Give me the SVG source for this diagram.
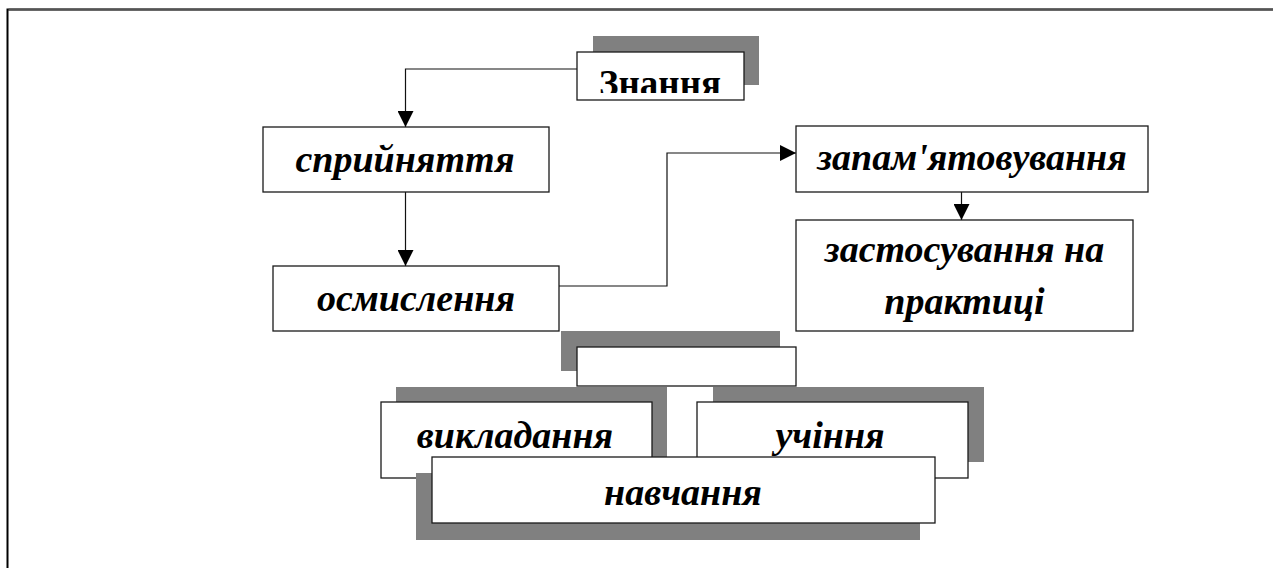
<svg xmlns="http://www.w3.org/2000/svg" width="1273" height="568" viewBox="0 0 1273 568">
<style>
.box{fill:#fff;stroke:#1a1a1a;stroke-width:1.3}
.sh{fill:#808080}
.t{font-family:"Liberation Serif","Times New Roman",serif;font-weight:bold;font-style:italic;font-size:38px;fill:#000;text-anchor:middle}
.t0{font-family:"Liberation Serif","Times New Roman",serif;font-weight:bold;font-size:37px;fill:#000;text-anchor:middle}
.c{fill:none;stroke:#111;stroke-width:1.2}
</style>
<defs>
<marker id="arr" markerUnits="userSpaceOnUse" markerWidth="16" markerHeight="16" refX="16" refY="8" orient="auto">
<path d="M0,0 L16,8 L0,16 z" fill="#000"/>
</marker>
<clipPath id="clipZ"><rect x="578" y="53" width="165" height="40"/></clipPath>
</defs>
<rect width="1273" height="568" fill="#fff"/>
<path d="M7.5,568 V9.5 H1273" fill="none" stroke="#000" stroke-width="2"/>
<path d="M8.5,9.5 H1273" fill="none" stroke="#555" stroke-width="2"/>

<g id="connectors">
<path class="c" d="M577,69 H405.5 V127" marker-end="url(#arr)"/>
<path class="c" d="M405.5,192 V266" marker-end="url(#arr)"/>
<path class="c" d="M559,286 H667 V153 H796" marker-end="url(#arr)"/>
<path class="c" d="M961.5,192 V220" marker-end="url(#arr)"/>
</g>

<g id="znannia">
<rect class="sh" x="593" y="36" width="166" height="49"/>
<rect class="box" x="577" y="52" width="167" height="48"/>
<text class="t0" x="660" y="96" clip-path="url(#clipZ)">Знання</text>
</g>

<g id="spryiniattia">
<rect class="box" x="263" y="127" width="286" height="65"/>
<text class="t" x="405" y="172">сприйняття</text>
</g>

<g id="osmyslennia">
<rect class="box" x="273" y="266" width="286" height="65"/>
<text class="t" x="416" y="311">осмислення</text>
</g>

<g id="zapamiatovuvannia">
<rect class="box" x="796" y="126" width="352" height="66"/>
<text class="t" x="972" y="170">запам'ятовування</text>
</g>

<g id="zastosuvannia">
<rect class="box" x="796" y="220" width="337" height="111"/>
<text class="t" x="964.5" y="262">застосування на</text>
<text class="t" x="964.5" y="314">практиці</text>
</g>

<g id="vykladannia">
<rect class="sh" x="396" y="387" width="271" height="75"/>
<rect class="box" x="381" y="402" width="271" height="76"/>
<text class="t" x="515" y="448">викладання</text>
</g>

<g id="uchinnia">
<rect class="sh" x="713" y="387" width="271" height="75"/>
<rect class="box" x="697" y="402" width="271" height="76"/>
<text class="t" x="830" y="448">учіння</text>
</g>

<g id="empty">
<rect class="sh" x="561" y="331" width="219" height="40"/>
<rect class="box" x="577" y="347" width="219" height="39"/>
</g>

<g id="navchannia">
<rect class="sh" x="416" y="473" width="504" height="67"/>
<rect class="box" x="432" y="457" width="503" height="66"/>
<text class="t" x="683" y="505">навчання</text>
</g>
</svg>
